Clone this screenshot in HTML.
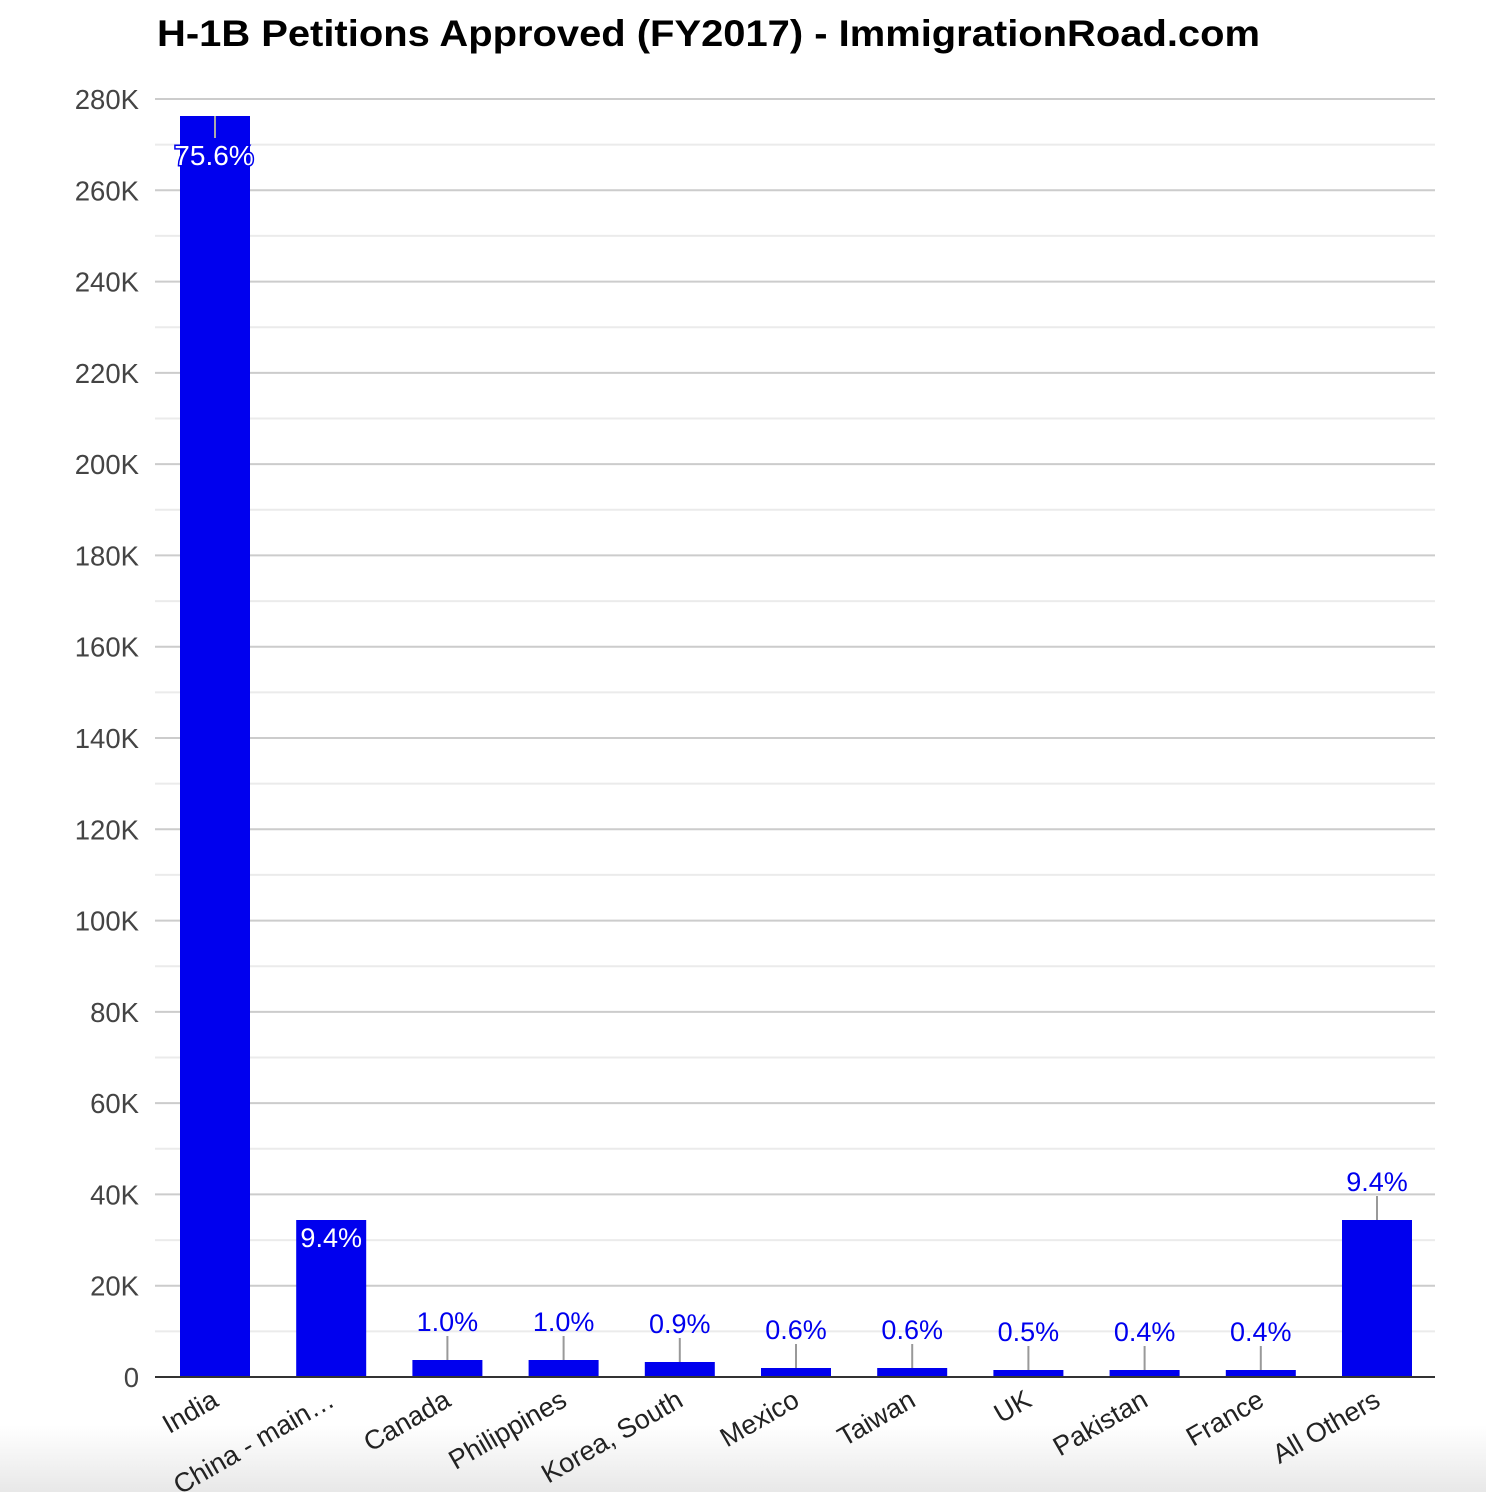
<!DOCTYPE html>
<html><head><meta charset="utf-8"><style>
html,body{margin:0;padding:0;background:#fff;}
svg{display:block;font-family:"Liberation Sans",Arial,sans-serif;}
</style></head><body>
<svg width="1486" height="1492" viewBox="0 0 1486 1492" xmlns="http://www.w3.org/2000/svg">
<defs><linearGradient id="g" x1="0" y1="0" x2="0" y2="1"><stop offset="0" stop-color="#fff"/><stop offset="1" stop-color="#e8e8e8"/></linearGradient></defs>
<rect x="0" y="1425" width="1486" height="67" fill="url(#g)"/>
<text x="157" y="46" font-size="37.5" font-weight="bold" fill="#000" textLength="1103" lengthAdjust="spacingAndGlyphs">H-1B Petitions Approved (FY2017) - ImmigrationRoad.com</text>
<g id="grid"></g>
<g id="bars"></g>
<line x1="155" y1="1377" x2="1435" y2="1377" stroke="#333" stroke-width="2"/>
<g id="xl" font-size="27" fill="#222"></g>
<script>
var ns="http://www.w3.org/2000/svg";
function el(t,a,p,txt){var e=document.createElementNS(ns,t);for(var k in a)e.setAttribute(k,a[k]);if(txt!=null)e.textContent=txt;document.getElementById(p).appendChild(e);return e;}
var y0=1377,k=1278/280;
for(var v=10;v<=280;v+=10){var y=y0-v*k;var maj=v%20==0;
el('line',{x1:155,x2:1435,y1:y,y2:y,stroke:maj?'#ccc':'#ebebeb','stroke-width':2},'grid');}
for(var v=0;v<=280;v+=20){var y=y0-v*k;el('text',{x:139,y:y+10,'font-size':27.5,fill:'#444','text-anchor':'end'},'grid',v==0?'0':v+'K');}
var names=['India','China - main…','Canada','Philippines','Korea, South','Mexico','Taiwan','UK','Pakistan','France','All Others'];
var tops=[116,1220,1360,1360,1362,1368,1368,1370,1370,1370,1220];
var pct=['75.6%','9.4%','1.0%','1.0%','0.9%','0.6%','0.6%','0.5%','0.4%','0.4%','9.4%'];
for(var i=0;i<11;i++){var c=215+116.2*i;var t=tops[i];
el('rect',{x:c-35,y:t,width:70,height:y0-t,fill:'#0000ee'},'bars');
if(i==0){el('line',{x1:c,x2:c,y1:t,y2:t+22,stroke:'#aaa','stroke-width':2},'bars');
el('text',{x:c-1,y:t+49,'font-size':28,fill:'#fff',stroke:'#0000ee','stroke-width':3,'paint-order':'stroke','text-anchor':'middle'},'bars',pct[i]);}
else if(i==1){el('text',{x:c,y:t+27,'font-size':27,fill:'#fff','text-anchor':'middle'},'bars',pct[i]);}
else{el('line',{x1:c,x2:c,y1:t-24,y2:t,stroke:'#999','stroke-width':2},'bars');
el('text',{x:c,y:t-29,'font-size':27,fill:'#0000ee','text-anchor':'middle'},'bars',pct[i]);}
el('text',{x:0,y:0,'text-anchor':'end',transform:'translate('+(c+5)+',1405) rotate(-30)'},'xl',names[i]);}
</script>
</svg>
</body></html>
